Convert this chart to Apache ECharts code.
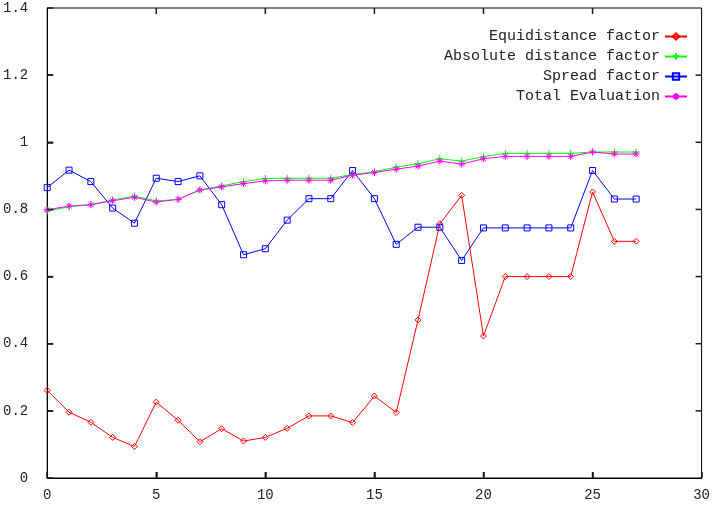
<!DOCTYPE html>
<html>
<head>
<meta charset="utf-8">
<script src="https://cdn.jsdelivr.net/npm/echarts@6/dist/echarts.min.js"></script>
<style>html,body{margin:0;padding:0;background:#fff;}#c{width:713px;height:512px;}</style>
</head>
<body>
<div id="c"></div>
<script>
var xValues = [0,1,2,3,4,5,6,7,8,9,10,11,12,13,14,15,16,17,18,19,20,21,22,23,24,25,26,27];
var equidistance = [0.261,0.196,0.166,0.121,0.094,0.226,0.172,0.108,0.147,0.11,0.121,0.148,0.185,0.185,0.165,0.244,0.195,0.471,0.757,0.842,0.423,0.6,0.6,0.6,0.6,0.852,0.705,0.705];
var absoluteDist = [0.795,0.808,0.814,0.828,0.84,0.825,0.83,0.858,0.87,0.883,0.892,0.893,0.893,0.893,0.904,0.912,0.926,0.936,0.951,0.944,0.957,0.967,0.967,0.967,0.967,0.971,0.971,0.971];
var spread = [0.865,0.917,0.883,0.804,0.759,0.893,0.883,0.9,0.814,0.665,0.683,0.768,0.832,0.832,0.916,0.832,0.696,0.747,0.747,0.648,0.745,0.745,0.745,0.745,0.745,0.916,0.831,0.831];
var totalEval = [0.799,0.81,0.814,0.826,0.836,0.822,0.83,0.858,0.867,0.877,0.885,0.887,0.887,0.887,0.902,0.91,0.92,0.929,0.944,0.935,0.951,0.958,0.958,0.958,0.958,0.971,0.965,0.965];
var xTicks = {min:0, max:30, interval:5};
var yTicks = {min:0, max:1.4, interval:0.2};
var xTickValues = [5, 10, 15, 20, 25];
var yTickValues = [0.2, 0.4, 0.6, 0.8, 1.0, 1.2];

function pairs(vals){ return vals.map(function(v,i){ return [xValues[i], v]; }); }

var font = '"Liberation Mono", "DejaVu Sans Mono", monospace';
var chart = echarts.init(document.getElementById('c'), null, {renderer:'canvas'});

var plusPath = 'path://M0,5H10M5,0V10';
var starPath = 'path://M0,5H10M5,0V10M1.5,1.5L8.5,8.5M8.5,1.5L1.5,8.5';
var squarePath = 'path://M0,0H10V10H0Z';
var diamondPath = 'path://M5,0L10,5L5,10L0,5Z';
var TICK = 6;
var TICK_COLOR = '#1a1a1a';

function line(name, vals, color, symbol, size, fill){
  return {
    name:name, type:'line', data:pairs(vals),
    symbol:symbol, symbolSize:size, showSymbol:true, showAllSymbol:true,
    lineStyle:{color:color, width:1},
    itemStyle:{color:fill, borderColor:color, borderWidth:1}
  };
}

function tickLine(x1, y1, x2, y2){
  return {type:'line', shape:{x1:x1, y1:y1, x2:x2, y2:y2}, style:{stroke:TICK_COLOR, lineWidth:1.5}};
}

var xTickSeries = {
  type:'custom', silent:true, clip:false, z:5,
  data:xTickValues.map(function(v){ return [v, yTicks.min]; }),
  renderItem:function(params, api){
    var x = api.value(0);
    var b = api.coord([x, yTicks.min]);
    var t = api.coord([x, yTicks.max]);
    return {type:'group', children:[tickLine(b[0], b[1], b[0], b[1]-TICK), tickLine(t[0], t[1], t[0], t[1]+TICK)]};
  }
};
var yTickSeries = {
  type:'custom', silent:true, clip:false, z:5,
  data:yTickValues.map(function(v){ return [xTicks.min, v]; }),
  renderItem:function(params, api){
    var y = api.value(1);
    var l = api.coord([xTicks.min, y]);
    var r = api.coord([xTicks.max, y]);
    return {type:'group', children:[tickLine(l[0], l[1], l[0]+TICK, l[1]), tickLine(r[0], r[1], r[0]-TICK, r[1])]};
  }
};

chart.setOption({
  animation:false,
  grid:{left:46, right:10, top:8, bottom:34, show:true, borderColor:'#000', borderWidth:1},
  xAxis:{type:'value', min:xTicks.min, max:xTicks.max, interval:xTicks.interval,
    axisLine:{show:true, lineStyle:{color:'#000', width:1}},
    axisTick:{show:true, inside:true, length:TICK, lineStyle:{color:TICK_COLOR, width:1.5}},
    splitLine:{show:false},
    axisLabel:{color:'#222', fontFamily:font, fontSize:14, margin:10}},
  yAxis:{type:'value', min:yTicks.min, max:yTicks.max, interval:yTicks.interval,
    axisLine:{show:true, lineStyle:{color:'#000', width:1}},
    axisTick:{show:true, inside:true, length:TICK, lineStyle:{color:TICK_COLOR, width:1.5}},
    splitLine:{show:false},
    axisLabel:{color:'#222', fontFamily:font, fontSize:14, margin:19,
      formatter:function(v){return String(Math.round(v*10)/10);}}},
  legend:{
    orient:'vertical', align:'right', right:20, top:24,
    itemWidth:22, itemHeight:8, itemGap:5,
    textStyle:{fontFamily:font, fontSize:15, color:'#222'},
    data:['Equidistance factor','Absolute distance factor','Spread factor','Total Evaluation']
  },
  series:[
    line('Equidistance factor', equidistance, '#ff0000', diamondPath, 6, 'rgba(255,255,255,0)'),
    line('Absolute distance factor', absoluteDist, '#00ff00', plusPath, 7, 'rgba(0,0,0,0)'),
    line('Spread factor', spread, '#0000ff', squarePath, 6, 'rgba(255,255,255,0)'),
    line('Total Evaluation', totalEval, '#ff00ff', starPath, 7, 'rgba(0,0,0,0)'),
    xTickSeries,
    yTickSeries
  ]
});
</script>
</body>
</html>
